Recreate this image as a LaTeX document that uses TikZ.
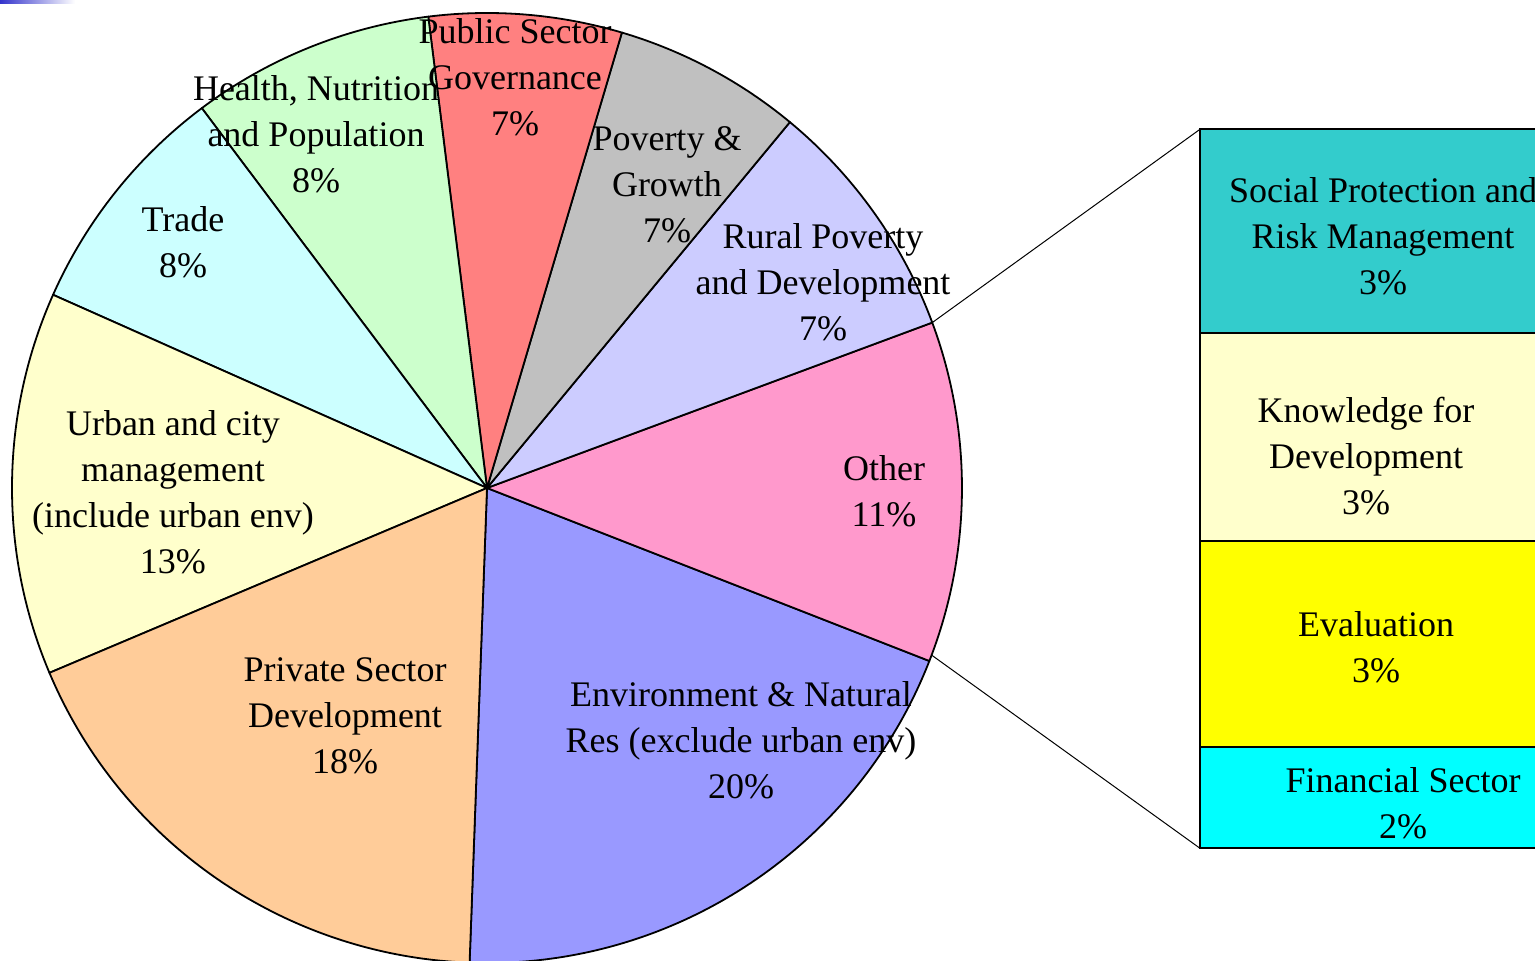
\documentclass[tikz,border=0pt]{standalone}
\usepackage{fontspec}
\setmainfont{Liberation Serif}
\usepackage{tikz}
\usepackage{xcolor}
\usetikzlibrary{positioning}

\definecolor{cornerblue}{HTML}{3333CC}
\definecolor{envblue}{HTML}{9999FF}
\definecolor{otherpink}{HTML}{FF99CC}
\definecolor{ruralviolet}{HTML}{CCCCFF}
\definecolor{povgrey}{HTML}{C0C0C0}
\definecolor{pubred}{HTML}{FF8080}
\definecolor{healthgreen}{HTML}{CCFFCC}
\definecolor{tradecyan}{HTML}{CCFFFF}
\definecolor{urbanyellow}{HTML}{FFFFCC}
\definecolor{privorange}{HTML}{FFCC99}
\definecolor{socteal}{HTML}{33CCCC}
\definecolor{knowyellow}{HTML}{FFFFCC}
\definecolor{evalyellow}{HTML}{FFFF00}
\definecolor{fincyan}{HTML}{00FFFF}

\tikzset{
	slice/.style={draw=black, line width=0.9pt, line join=round},
	barseg/.style={draw=black, line width=1pt},
	lbl/.style={align=center, inner sep=0pt, font=\fontsize{18}{23}\selectfont},
}

\begin{document}
\begin{tikzpicture}[x=0.5pt,y=0.5pt]
				\useasboundingbox (-487,-473) rectangle (1048,488);
				\clip (-487,-473) rectangle (1048,488);
				\shade[left color=cornerblue, right color=white] (-487,488) rectangle (-412,484);
				\coordinate (O) at (0,0);
				% pie
				\draw[slice, fill=envblue] (O) -- (-92.1:475) arc (-92.1:-21.36:475) -- cycle;
				\draw[slice, fill=otherpink] (O) -- (-21.36:475) arc (-21.36:20.38:475) -- cycle;
				\draw[slice, fill=ruralviolet] (O) -- (20.38:475) arc (20.38:50.38:475) -- cycle;
				\draw[slice, fill=povgrey] (O) -- (50.38:475) arc (50.38:73.5:475) -- cycle;
				\draw[slice, fill=pubred] (O) -- (73.5:475) arc (73.5:97.1:475) -- cycle;
				\draw[slice, fill=healthgreen] (O) -- (97.1:475) arc (97.1:126.9:475) -- cycle;
				\draw[slice, fill=tradecyan] (O) -- (126.9:475) arc (126.9:156:475) -- cycle;
				\draw[slice, fill=urbanyellow] (O) -- (156:475) arc (156:202.9:475) -- cycle;
				\draw[slice, fill=privorange] (O) -- (202.9:475) arc (202.9:267.9:475) -- cycle;
				% bar
				\draw[barseg, fill=socteal] (713,358.7) rectangle (1070,154.7);
				\draw[barseg, fill=knowyellow] (713,154.7) rectangle (1070,-52.7);
				\draw[barseg, fill=evalyellow] (713,-52.7) rectangle (1070,-259.3);
				\draw[barseg, fill=fincyan] (713,-259.3) rectangle (1070,-360.3);
				\coordinate (othertop) at (20.38:475);
				\coordinate (otherbot) at (-20.6:475);
				\coordinate (bartop) at (713,358.7);
				\coordinate (barbot) at (713,-360.3);
				\draw[line width=0.5pt] (othertop) -- (bartop);
				\draw[line width=0.5pt] (otherbot) -- (barbot);
				% labels
				\node[lbl] (pubsec) at (28,411) {Public Sector\\Governance\\7\%};
				\node[lbl] (health) at (-171,354) {Health, Nutrition\\and Population\\8\%};
				\node[lbl] (trade) at (-304,245.5) {Trade\\8\%};
				\node[lbl] (poverty) at (180,303) {Poverty \&\\Growth\\7\%};
				\node[lbl] (rural) at (336,206) {Rural Poverty\\and Development\\7\%};
				\node[lbl] (other) at (397,-3.5) {Other\\11\%};
				\node[lbl] (environ) at (254,-252) {Environment \& Natural\\Res (exclude urban env)\\20\%};
				\node[lbl] (private) at (-142,-228) {Private Sector\\Development\\18\%};
				\node[lbl] (urban) at (-314,-4) {Urban and city\\management\\(include urban env)\\13\%};
				\node[lbl] (social) at (896,252) {Social Protection and\\Risk Management\\3\%};
				\node[lbl] (knowledge) at (879,32) {Knowledge for\\Development\\3\%};
				\node[lbl] (evaluation) at (889,-159.5) {Evaluation\\3\%};
				\node[lbl] (financial) at (916,-315.5) {Financial Sector\\2\%};
\end{tikzpicture}
\end{document}
